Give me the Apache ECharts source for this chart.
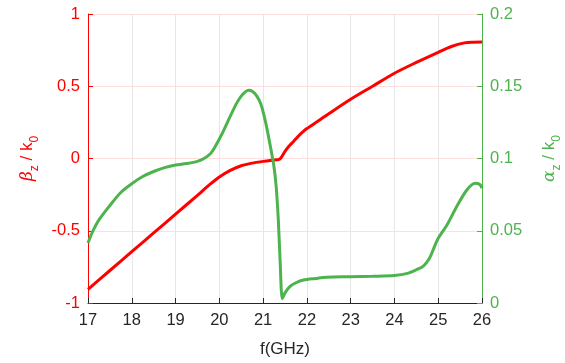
<!DOCTYPE html>
<html><head><meta charset="utf-8">
<script src="https://cdn.jsdelivr.net/npm/echarts@6/dist/echarts.min.js"></script>
<style>html,body{margin:0;padding:0;background:#fff;overflow:hidden}#c{width:565px;height:363px}</style>
</head><body><div id="c"></div>
<script>
var betaF = [17,17.5,18,18.5,19,19.5,19.75,20,20.25,20.5,20.75,21,21.2,21.37,21.42,21.5,21.6,21.7,21.8,21.9,22,22.25,22.5,23,23.5,24,24.5,25,25.3,25.6,25.8,26];
var betaV = [-0.905,-0.775,-0.645,-0.515,-0.385,-0.255,-0.188,-0.128,-0.082,-0.05,-0.032,-0.02,-0.012,-0.006,0.01,0.05,0.088,0.12,0.153,0.182,0.207,0.258,0.31,0.41,0.50,0.59,0.665,0.735,0.775,0.80,0.805,0.806];
var alphaF = [17,17.1,17.25,17.5,17.75,18,18.25,18.5,18.75,19,19.25,19.5,19.65,19.8,19.9,20,20.1,20.2,20.3,20.4,20.5,20.6,20.67,20.75,20.85,20.95,21.05,21.15,21.25,21.3,21.35,21.39,21.44,21.5,21.61,21.75,21.92,22.2,22.45,23,23.5,24,24.3,24.5,24.66,24.8,24.9,25,25.2,25.42,25.65,25.84,25.95,26];
var alphaV = [0.0415,0.049,0.0575,0.0675,0.0765,0.0825,0.0875,0.091,0.0937,0.0955,0.0965,0.098,0.100,0.1035,0.108,0.1135,0.1195,0.126,0.1325,0.1385,0.1432,0.1463,0.1472,0.1465,0.1435,0.1375,0.126,0.111,0.094,0.080,0.056,0.028,0.003,0.007,0.0113,0.014,0.0159,0.017,0.0178,0.0182,0.0185,0.019,0.0205,0.023,0.0256,0.031,0.038,0.0448,0.054,0.0666,0.078,0.0828,0.082,0.0794];
var xTicks = [17,18,19,20,21,22,23,24,25,26];
var leftTicks = [-1,-0.5,0,0.5,1];
var rightTicks = [0,0.05,0.1,0.15,0.2];
function zip(a,b){return a.map(function(v,i){return [v,b[i]];});}
var RED='#ff0000', GREEN='#4db34d', DARK='#262626', FONT='Liberation Sans';
var chart = echarts.init(document.getElementById('c'), null, {renderer:'canvas'});
function nameRich(color){
  return {
    n:{fontFamily:FONT,fontSize:17,color:color,lineHeight:22,verticalAlign:'top'},
    g:{fontFamily:'DejaVu Serif',fontStyle:'italic',fontSize:17,color:color,lineHeight:22,verticalAlign:'top'},
    s:{fontFamily:FONT,fontSize:12,color:color,lineHeight:12,verticalAlign:'bottom'}
  };
}
chart.setOption({
  animation:false,
  backgroundColor:'#fff',
  grid:{left:88,right:83,top:14,bottom:60,containLabel:false,outerBoundsMode:'none'},
  xAxis:{
    type:'value',min:17,max:26,interval:1,
    name:'f(GHz)',nameLocation:'middle',nameGap:38,
    nameTextStyle:{fontFamily:FONT,fontSize:17,color:DARK},
    axisLine:{show:true,onZero:false,lineStyle:{color:DARK,width:1}},
    axisTick:{show:true,inside:true,length:5,lineStyle:{color:DARK}},
    axisLabel:{fontFamily:FONT,fontSize:16.5,color:DARK,margin:9,formatter:function(v){return xTicks.indexOf(v)>=0?String(v):'';}},
    splitLine:{show:true,lineStyle:{color:'#e6e6e6',width:1}}
  },
  yAxis:[{
    type:'value',min:-1,max:1,interval:0.5,position:'left',
    name:'{g|β}{s|z}{n| / k}{s|0}',nameLocation:'middle',nameGap:45,nameRotate:90,
    nameTextStyle:{rich:nameRich(RED)},
    axisLine:{show:true,onZero:false,lineStyle:{color:RED,width:1}},
    axisTick:{show:true,inside:true,length:5,lineStyle:{color:RED}},
    axisLabel:{fontFamily:FONT,fontSize:16.5,color:RED,margin:8,formatter:function(v){return leftTicks.indexOf(v)>=0?String(v):'';}},
    splitLine:{show:true,lineStyle:{color:'#ffdede',width:1}}
  },{
    type:'value',min:0,max:0.2,interval:0.05,position:'right',
    name:'{g|α}{s|z}{n| / k}{s|0}',nameLocation:'middle',nameGap:59,nameRotate:90,
    nameTextStyle:{rich:nameRich(GREEN)},
    axisLine:{show:true,onZero:false,lineStyle:{color:GREEN,width:1}},
    axisTick:{show:true,inside:true,length:5,lineStyle:{color:GREEN}},
    axisLabel:{fontFamily:FONT,fontSize:16.5,color:GREEN,margin:8,formatter:function(v){var r=Math.round(v*100)/100;return rightTicks.indexOf(r)>=0?String(r):'';}},
    splitLine:{show:false}
  }],
  series:[{
    type:'line',yAxisIndex:0,data:zip(betaF,betaV),showSymbol:false,
    smooth:0.3,lineStyle:{color:RED,width:3},z:3
  },{
    type:'line',yAxisIndex:1,data:zip(alphaF,alphaV),showSymbol:false,
    smooth:0.3,lineStyle:{color:GREEN,width:3},z:4
  }]
});
</script></body></html>
